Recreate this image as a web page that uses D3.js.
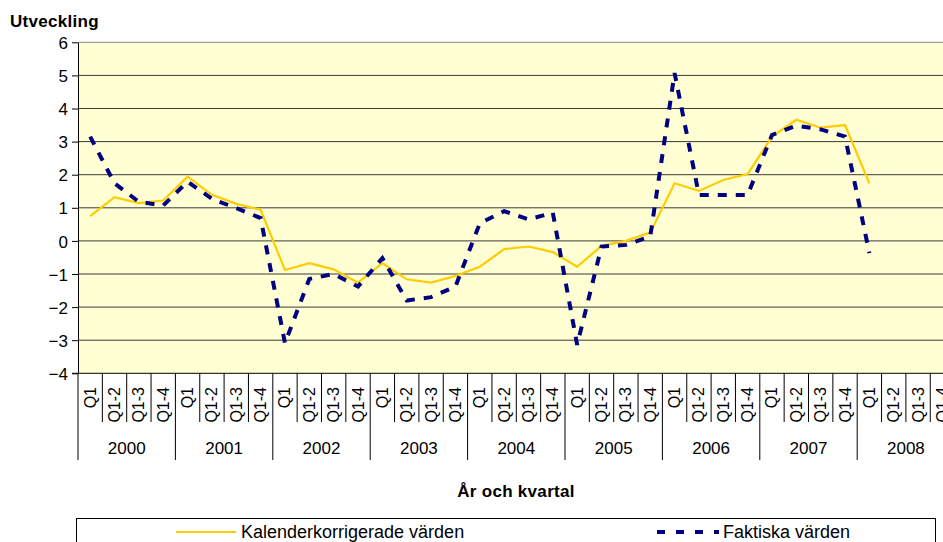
<!DOCTYPE html>
<html lang="sv">
<head>
<meta charset="UTF-8" />
<title>Utveckling - År och kvartal</title>
<style>
  body { margin: 0; background: #fff; overflow: hidden; }
  svg { display: block; font-family: Arial, "Liberation Sans", sans-serif; }
  .grid line { stroke: #3a3a3a; stroke-width: 1px; }
  .tick-label { font-size: 17px; fill: #000; }
  .q-label { font-size: 16px; fill: #000; }
  .year-label { font-size: 17px; fill: #000; }
  .title { font-size: 17px; font-weight: bold; fill: #000; letter-spacing: 0.3px; }
  .legend-text { font-size: 18px; fill: #000; }
</style>
</head>
<body>
<svg width="943" height="542"></svg>
<script src="https://d3js.org/d3.v7.min.js"></script>
<script>
// Categories
const years = ["2000", "2001", "2002", "2003", "2004", "2005", "2006", "2007", "2008"];
const quarters = ["Q1", "Q1-2", "Q1-3", "Q1-4"];
const yTicks = [-4, -3, -2, -1, 0, 1, 2, 3, 4, 5, 6];

// Series values (one per quarter, starting 2000 Q1, ending 2008 Q1)
const kalender = [
  0.75, 1.32, 1.14, 1.22,
  1.94, 1.39, 1.12, 0.94,
  -0.88, -0.67, -0.86, -1.26,
  -0.67, -1.16, -1.26, -1.06,
  -0.78, -0.25, -0.17, -0.34,
  -0.78, -0.15, 0.0, 0.25,
  1.74, 1.51, 1.84, 2.02,
  3.15, 3.66, 3.42, 3.5,
  1.74
];
const faktiska = [
  3.15, 1.74, 1.18, 1.07,
  1.79, 1.27, 0.99, 0.69,
  -3.09, -1.15, -1.0, -1.38,
  -0.52, -1.8, -1.7, -1.38,
  0.53, 0.9, 0.65, 0.85,
  -3.14, -0.17, -0.12, 0.13,
  5.07, 1.39, 1.39, 1.39,
  3.2, 3.48, 3.37, 3.15,
  -0.37
];

const svg = d3.select("svg");

// all category keys, e.g. "2000|Q1"
const cats = [];
years.forEach(y => quarters.forEach(q => cats.push(y + "|" + q)));

const plotLeft = 78, plotTop = 42.3, plotBottom = 373.3;
const catW = 24.35;
const plotRight = plotLeft + cats.length * catW;

const x = d3.scaleBand()
  .domain(cats)
  .range([plotLeft, plotRight])
  .paddingInner(0).paddingOuter(0);

const y = d3.scaleLinear().domain([-4, 6]).range([plotBottom, plotTop]);

// Plot background
svg.append("rect")
  .attr("x", plotLeft).attr("y", plotTop)
  .attr("width", plotRight - plotLeft).attr("height", plotBottom - plotTop)
  .attr("fill", "#ffffd3");

// Gridlines
svg.append("g").attr("class", "grid")
  .selectAll("line")
  .data(yTicks.filter(d => d > -4))
  .join("line")
  .attr("x1", plotLeft).attr("x2", plotRight)
  .attr("y1", d => y(d)).attr("y2", d => y(d))
  .style("stroke", d => d === 6 ? "#8a8a8a" : "#3a3a3a");

// Y axis
const yAxis = svg.append("g")
  .attr("transform", `translate(${plotLeft},0)`)
  .call(d3.axisLeft(y).tickValues(yTicks).tickSize(6).tickSizeOuter(0).tickFormat(d3.format("d")));
yAxis.attr("font-family", null).attr("font-size", null);
yAxis.select(".domain").attr("stroke", "#000");
yAxis.selectAll(".tick line").attr("stroke", "#000");
yAxis.selectAll(".tick text")
  .attr("class", "tick-label")
  .attr("x", -10)
  .attr("dy", "0.36em");

// X axis baseline
svg.append("line")
  .attr("x1", plotLeft - 6).attr("x2", plotRight)
  .attr("y1", plotBottom).attr("y2", plotBottom)
  .attr("stroke", "#000");

// Category separators (short for quarters, long for years)
const seps = d3.range(cats.length + 1);
svg.append("g")
  .selectAll("line")
  .data(seps)
  .join("line")
  .attr("x1", i => plotLeft + i * x.step())
  .attr("x2", i => plotLeft + i * x.step())
  .attr("y1", plotBottom)
  .attr("y2", i => i % 4 === 0 ? 460 : 422)
  .attr("stroke", "#000");

// Quarter labels (rotated)
svg.append("g")
  .selectAll("text")
  .data(cats)
  .join("text")
  .attr("class", "q-label")
  .attr("text-anchor", "end")
  .attr("transform", d => `translate(${x(d) + x.bandwidth() / 2 + 5.5},387) rotate(-90)`)
  .text(d => d.split("|")[1]);

// Year labels
svg.append("g")
  .selectAll("text")
  .data(years)
  .join("text")
  .attr("class", "year-label")
  .attr("text-anchor", "middle")
  .attr("x", d => x(d + "|Q1") + 2 * x.step())
  .attr("y", 454)
  .text(d => d);

// Titles
svg.append("text").attr("class", "title")
  .attr("x", 10).attr("y", 27)
  .text("Utveckling");
svg.append("text").attr("class", "title")
  .attr("x", 516).attr("y", 497)
  .attr("text-anchor", "middle")
  .text("År och kvartal");

// Lines
const line = d3.line()
  .x((d, i) => x(cats[i]) + x.bandwidth() / 2)
  .y(d => y(d));

svg.append("path")
  .datum(kalender)
  .attr("fill", "none")
  .attr("stroke", "#ffcc00")
  .attr("stroke-width", 2.2)
  .attr("d", line);

svg.append("path")
  .datum(faktiska)
  .attr("fill", "none")
  .attr("stroke", "#000080")
  .attr("stroke-width", 4)
  .attr("stroke-dasharray", "9,9")
  .attr("d", line);

// Legend
const legend = svg.append("g");
legend.append("rect")
  .attr("x", 76.5).attr("y", 518.5)
  .attr("width", 859).attr("height", 40)
  .attr("fill", "#fff").attr("stroke", "#000");

legend.append("line")
  .attr("x1", 176).attr("x2", 236).attr("y1", 532).attr("y2", 532)
  .attr("stroke", "#ffcc00").attr("stroke-width", 2.2);
legend.append("text").attr("class", "legend-text")
  .attr("x", 241).attr("y", 538)
  .text("Kalenderkorrigerade värden");

legend.append("line")
  .attr("x1", 657).attr("x2", 719).attr("y1", 532).attr("y2", 532)
  .attr("stroke", "#000080").attr("stroke-width", 4)
  .attr("stroke-dasharray", "8,11");
legend.append("text").attr("class", "legend-text")
  .attr("x", 723).attr("y", 538)
  .text("Faktiska värden");
</script>
</body>
</html>
